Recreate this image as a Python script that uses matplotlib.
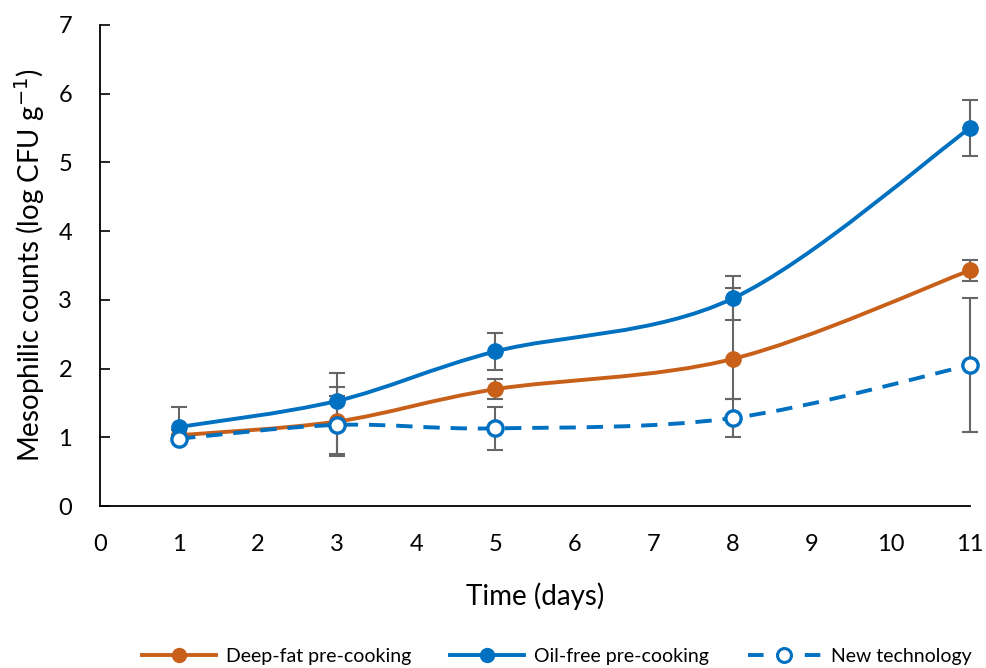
import numpy as np
import matplotlib.pyplot as plt
from matplotlib.path import Path
from matplotlib.patches import PathPatch
from matplotlib.lines import Line2D

plt.rcParams['font.family'] = ['Lato', 'DejaVu Sans']

days = [1, 3, 5, 8, 11]
deep_fat = [1.03, 1.23, 1.70, 2.14, 3.43]
deep_fat_lo = [0.0, 0.50, 0.15, 0.58, 0.15]
deep_fat_hi = [0.0, 0.50, 0.15, 1.03, 0.15]
oil_free = [1.15, 1.53, 2.25, 3.02, 5.50]
oil_free_lo = [0.05, 0.40, 0.27, 0.32, 0.41]
oil_free_hi = [0.29, 0.40, 0.27, 0.32, 0.41]
new_tech = [0.98, 1.18, 1.13, 1.28, 2.05]
new_tech_lo = [0.0, 0.42, 0.31, 0.28, 0.97]
new_tech_hi = [0.0, 0.42, 0.31, 0.28, 0.97]

orange = "#C8601A"
blue = "#0070C0"
grey = "#666666"


# excel-style smoothed line (bezier through the points)
def smooth_path(x, y):
    pts = np.column_stack([x, y]).astype(float)
    n = len(pts)
    verts = [pts[0]]
    codes = [Path.MOVETO]
    for i in range(n - 1):
        p0 = pts[max(i - 1, 0)]
        p1 = pts[i]
        p2 = pts[i + 1]
        p3 = pts[min(i + 2, n - 1)]
        c1 = p1 + (p2 - p0) / 6
        c2 = p2 - (p3 - p1) / 6
        verts += [c1, c2, p2]
        codes += [Path.CURVE4] * 3
    return Path(verts, codes)


fig = plt.figure(figsize=(9.86, 6.68), dpi=100)
ax = fig.add_axes([0.1014, 0.2425, 0.8824, 0.7201])

# error bars first so they sit behind
for y, lo, hi in [(deep_fat, deep_fat_lo, deep_fat_hi),
                  (oil_free, oil_free_lo, oil_free_hi),
                  (new_tech, new_tech_lo, new_tech_hi)]:
    ax.errorbar(days, y, yerr=[lo, hi], fmt="none", ecolor=grey, elinewidth=1.5,
                capsize=6, capthick=1.5, zorder=2, clip_on=False)

ax.add_patch(PathPatch(smooth_path(days, deep_fat), facecolor="none",
                       edgecolor=orange, lw=2.8, zorder=3))
ax.add_patch(PathPatch(smooth_path(days, oil_free), facecolor="none",
                       edgecolor=blue, lw=2.8, zorder=3))
ax.add_patch(PathPatch(smooth_path(days, new_tech), facecolor="none",
                       edgecolor=blue, lw=2.8, linestyle=(0, (4.2, 2.8)), zorder=3))

ax.plot(days, deep_fat, "o", color=orange, ms=11, zorder=4, clip_on=False)
ax.plot(days, oil_free, "o", color=blue, ms=11, zorder=4, clip_on=False)
ax.plot(days, new_tech, "o", mfc="white", mec=blue, mew=2.4, ms=11, zorder=4, clip_on=False)

ax.set_xlim(0, 11)
ax.set_ylim(0, 7)
ax.set_xticks(range(0, 12))
ax.set_yticks(range(0, 8))
ax.tick_params(axis="x", length=0, labelsize=17, pad=20)
ax.tick_params(axis="y", direction="in", length=7, width=1.2, labelsize=17, pad=20)
ax.spines["top"].set_visible(False)
ax.spines["right"].set_visible(False)
ax.spines["left"].set_linewidth(1.3)
ax.spines["bottom"].set_linewidth(1.3)

ax.set_xlabel("Time (days)", fontsize=20, labelpad=20)
ax.set_ylabel("Mesophilic counts (log CFU g$^{-1}$)", fontsize=20, labelpad=8)

handles = [
    Line2D([], [], color=orange, lw=2.8, marker="o", ms=10),
    Line2D([], [], color=blue, lw=2.8, marker="o", ms=10),
    Line2D([], [], color=blue, lw=2.8, ls=(0, (4.0, 3.3)), marker="o", mfc="white", mec=blue, mew=2.2, ms=10),
]
fig.legend(handles, ["Deep-fat pre-cooking", "Oil-free pre-cooking", "New technology"],
           loc="center", bbox_to_anchor=(0.565, 0.017), ncol=3, frameon=False,
           fontsize=14, handlelength=3.8, columnspacing=2.0, handletextpad=0.5)

fig.savefig("out.png", dpi=100)
